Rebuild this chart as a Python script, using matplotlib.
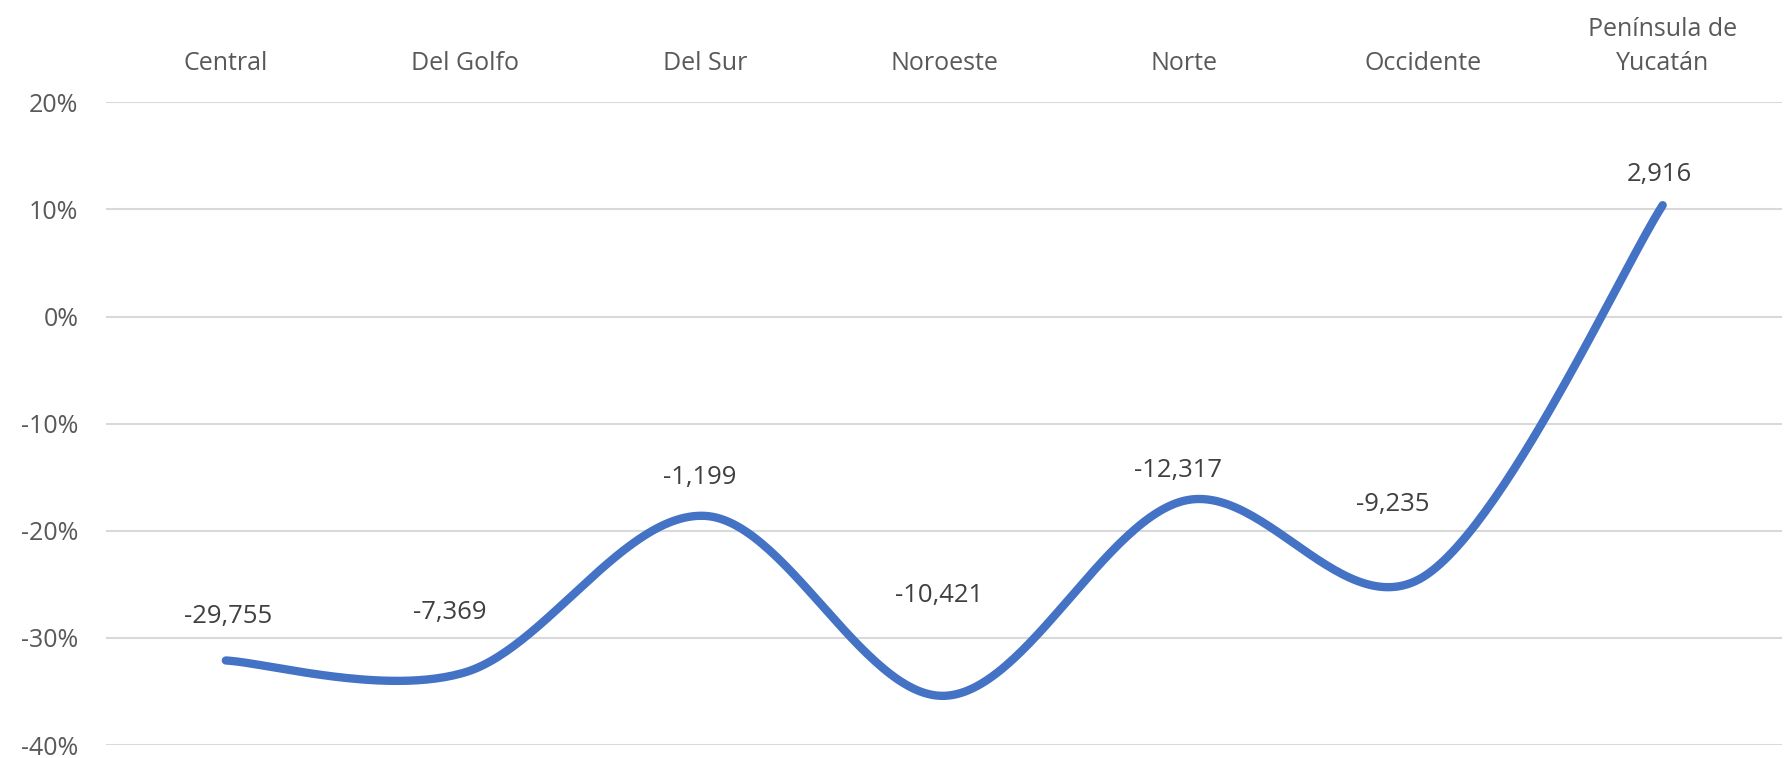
import numpy as np
import matplotlib.pyplot as plt
from matplotlib.ticker import FuncFormatter

plt.rcParams['font.family'] = ['Open Sans', 'DejaVu Sans']

regions = ['Central', 'Del Golfo', 'Del Sur', 'Noroeste', 'Norte', 'Occidente',
           'Península de\nYucatán']
change_pct = [-32.1, -33.2, -18.6, -35.4, -17.2, -24.3, 10.4]
labels = ['-29,755', '-7,369', '-1,199', '-10,421', '-12,317', '-9,235', '2,916']

# label offsets in pixels (dx, dy), as placed in the original
label_off = [(2, 44), (-16, 60), (-5, 38), (-5, 100), (-6, 30), (-30, 72), (-3, 31)]

blue = '#4472C4'
grey = '#595959'


def smooth(xs, ys, n=60):
    # Excel-like smoothing: Catmull-Rom segments through every point
    xs = np.asarray(xs, float)
    ys = np.asarray(ys, float)
    px = np.concatenate([[xs[0]], xs, [xs[-1]]])
    py = np.concatenate([[ys[0]], ys, [ys[-1]]])
    outx, outy = [], []
    t = np.linspace(0, 1, n)
    for i in range(1, len(px) - 2):
        p0x, p1x, p2x, p3x = px[i - 1], px[i], px[i + 1], px[i + 2]
        p0y, p1y, p2y, p3y = py[i - 1], py[i], py[i + 1], py[i + 2]
        c1x, c1y = p1x + (p2x - p0x) / 6, p1y + (p2y - p0y) / 6
        c2x, c2y = p2x - (p3x - p1x) / 6, p2y - (p3y - p1y) / 6
        bx = (1 - t) ** 3 * p1x + 3 * (1 - t) ** 2 * t * c1x + 3 * (1 - t) * t ** 2 * c2x + t ** 3 * p2x
        by = (1 - t) ** 3 * p1y + 3 * (1 - t) ** 2 * t * c1y + 3 * (1 - t) * t ** 2 * c2y + t ** 3 * p2y
        outx.extend(bx)
        outy.extend(by)
    return np.array(outx), np.array(outy)


fig = plt.figure(figsize=(17.86, 7.58), dpi=100)
ax = fig.add_axes([0.0594, 0.017, 0.9386, 0.848])

x = np.arange(len(regions))
sx, sy = smooth(x, change_pct)
ax.plot(sx, sy, color=blue, lw=6, solid_capstyle='round', zorder=3)

for xi, yi, lab, (dx, dy) in zip(x, change_pct, labels, label_off):
    ax.annotate(lab, (xi, yi), xytext=(dx, dy), textcoords='offset pixels',
                ha='center', va='center', fontsize=18.5, color='#404040')

ax.set_xlim(-0.5, len(regions) - 0.5)
ax.set_ylim(-40, 20)
ax.set_yticks(np.arange(-40, 21, 10))
ax.yaxis.set_major_formatter(FuncFormatter(lambda v, p: f'{v:.0f}%'))
ax.grid(axis='y', color='#D9D9D9', lw=1.5)
ax.set_axisbelow(True)

ax.xaxis.tick_top()
ax.set_xticks(x)
ax.set_xticklabels(regions, fontsize=18, color=grey, linespacing=1.45)
ax.tick_params(axis='x', length=0, pad=19)
ax.tick_params(axis='y', length=0, pad=20, labelsize=18, labelcolor=grey)
for s in ax.spines.values():
    s.set_visible(False)

fig.savefig('out.png', dpi=100)
